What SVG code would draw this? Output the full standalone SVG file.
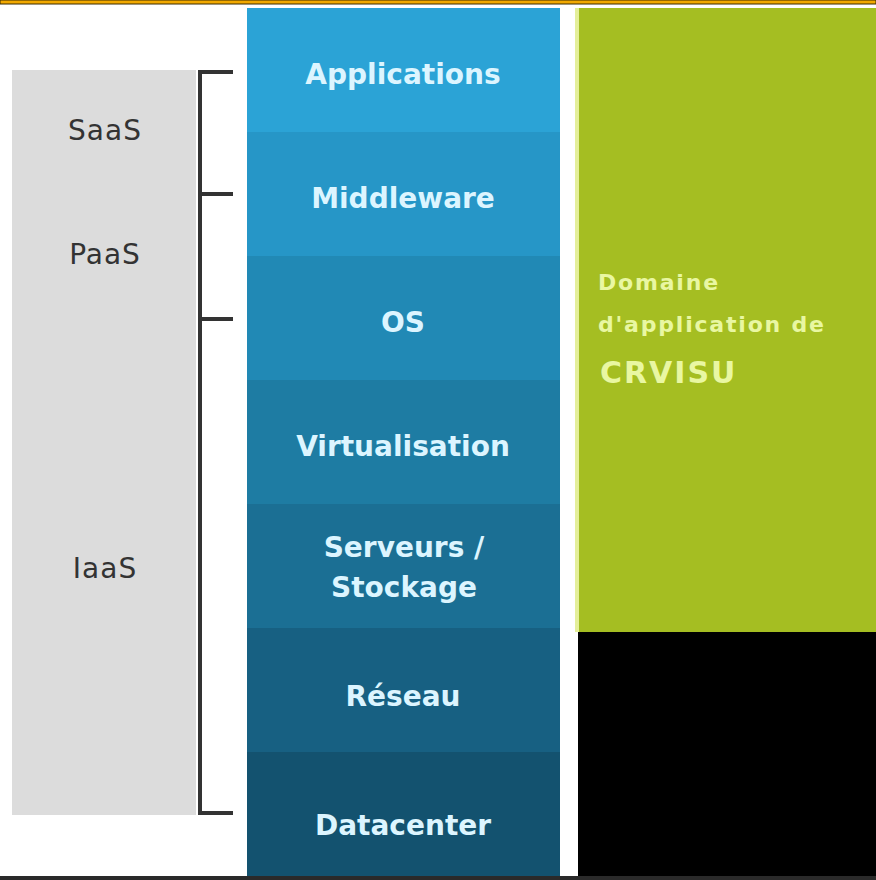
<svg xmlns="http://www.w3.org/2000/svg" width="876" height="880" viewBox="0 0 876 880">
<style>
.lbl{font-family:"DejaVu Sans",Verdana,sans-serif;font-size:28px;fill:#333;text-anchor:middle;letter-spacing:1px}
.layer{font-family:"DejaVu Sans",Verdana,sans-serif;font-size:28px;font-weight:bold;fill:#dcf5ff;text-anchor:middle}
.dom{font-family:"DejaVu Sans",Verdana,sans-serif;font-size:22px;font-weight:bold;fill:#e9f7a2;letter-spacing:1.8px}
.brk{stroke:#333;stroke-width:4;fill:none}
</style>
<rect width="876" height="880" fill="#fff"/>
<rect x="0" y="0" width="876" height="4" fill="#f2a900" stroke="#3a2a00" stroke-width="1"/>
<g id="gray-panel">
<rect x="12" y="70" width="184" height="745" fill="#dcdcdc"/>
<text class="lbl" x="105" y="140">SaaS</text>
<text class="lbl" x="105" y="264">PaaS</text>
<text class="lbl" x="105" y="578">IaaS</text>
</g>
<g id="bracket">
<path class="brk" d="M233 72 H200 V813 H233 M200 194 H233 M200 319 H233"/>
</g>
<g id="applications"><rect x="247" y="8" width="313" height="124" fill="#2ba3d6"/><text class="layer" x="403" y="84">Applications</text></g>
<g id="middleware"><rect x="247" y="132" width="313" height="124" fill="#2696c7"/><text class="layer" x="403" y="208">Middleware</text></g>
<g id="os"><rect x="247" y="256" width="313" height="124" fill="#2189b5"/><text class="layer" x="403" y="332">OS</text></g>
<g id="virtualisation"><rect x="247" y="380" width="313" height="124" fill="#1e7ca3"/><text class="layer" x="403" y="456">Virtualisation</text></g>
<g id="serveurs"><rect x="247" y="504" width="313" height="124" fill="#1b6f94"/><text class="layer" x="404" y="557">Serveurs /</text><text class="layer" x="404" y="597">Stockage</text></g>
<g id="reseau"><rect x="247" y="628" width="313" height="124" fill="#176082"/><text class="layer" x="403" y="706">Réseau</text></g>
<g id="datacenter"><rect x="247" y="752" width="313" height="128" fill="#13526f"/><text class="layer" x="403" y="835">Datacenter</text></g>
<g id="domaine">
<rect x="575" y="8" width="301" height="624" fill="#a5be22"/>
<rect x="575" y="8" width="4" height="624" fill="#e4ef9a"/>
<text class="dom" x="598" y="290">Domaine</text>
<text class="dom" x="598" y="332">d'application de</text>
<text class="dom" x="600" y="383" style="font-size:30px;letter-spacing:2px">CRVISU</text>
</g>
<g id="black-block"><rect x="578" y="632" width="298" height="248" fill="#000"/></g>
<rect x="0" y="876" width="876" height="4" fill="#2a2a2a"/>
</svg>
